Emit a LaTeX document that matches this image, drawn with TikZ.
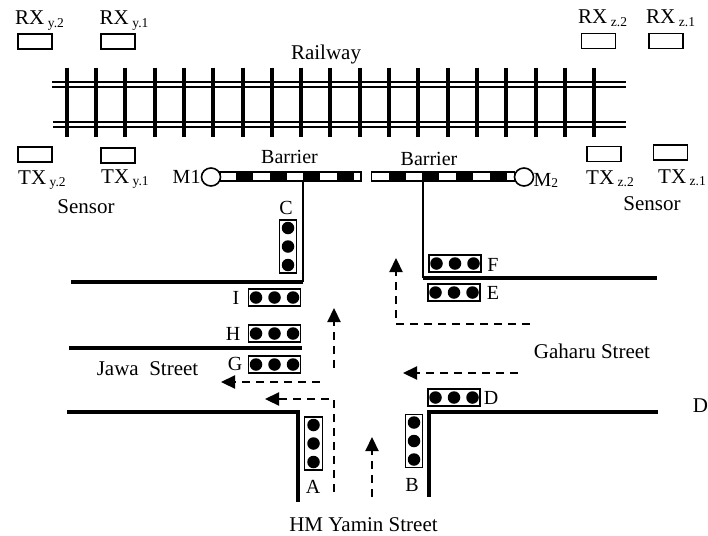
\documentclass[tikz,border=0pt]{standalone}
\usepackage{fontspec}
\setmainfont{Liberation Serif}
\usepackage{tikz}
\usetikzlibrary{shapes.geometric,arrows.meta,positioning,calc}
\newcommand{\sublabel}[2]{#1\,\raisebox{-2pt}{\fontsize{13.5}{14}\selectfont #2}}

\begin{document}
\begin{tikzpicture}[
  x=1pt, y=-1pt,
  sensorbox/.style={rectangle, draw, line width=1.4pt, fill=white, minimum width=34pt, minimum height=15pt, inner sep=0pt},
  lampbox/.style={rectangle, draw, line width=1.4pt, fill=white, minimum width=52pt, minimum height=17pt, inner sep=0pt},
  lampboxv/.style={lampbox, minimum width=17.5pt, minimum height=53pt},
  lamp/.style={circle, fill=black, minimum size=12.5pt, inner sep=0pt},
  label/.style={inner sep=0pt, font=\fontsize{21}{24}\selectfont},
  letter/.style={inner sep=0pt, font=\fontsize{20}{22}\selectfont},
  rail/.style={line width=2pt},
  tie/.style={line width=4pt},
  road/.style={line width=3.6pt},
  post/.style={line width=2.4pt},
  flow/.style={dashed, dash pattern=on 8pt off 6pt, line width=2.2pt, -{Triangle[length=14pt,width=13pt]}},
  motor/.style={ellipse, draw, line width=1.6pt, fill=white, minimum width=19pt, minimum height=18pt, inner sep=0pt},
  barbar/.style={rectangle, draw, line width=1.6pt, fill=white, minimum height=9pt, inner sep=0pt},
]
  \useasboundingbox (0,0) rectangle (708,535);

  % railway
  \foreach \i in {0,...,18}
    \draw[tie] ({66.7+\i*29.3},67.5) -- ({66.7+\i*29.3},137);
  \foreach \railY in {81.5,86.5}
    \draw[rail] (52,\railY) -- (626,\railY);
  \foreach \railY in {122,126.7}
    \draw[rail] (53,\railY) -- (626,\railY);
  \node[label] (railway) at (326,54) {Railway};

  % sensors
  \node[sensorbox] (rxy2) at (35,41.5) {};
  \node[sensorbox] (rxy1) at (118,41.5) {};
  \node[sensorbox] (rxz2) at (598.5,41) {};
  \node[sensorbox] (rxz1) at (666,41) {};
  \node[sensorbox] (txy2) at (35,154.5) {};
  \node[sensorbox] (txy1) at (118,155.5) {};
  \node[sensorbox] (txz2) at (604,154) {};
  \node[sensorbox] (txz1) at (670.5,152.5) {};
  \node[label, anchor=base west] (lrxy2) at (15,25) {\sublabel{RX}{y.2}};
  \node[label, anchor=base west] (lrxy1) at (99.5,25) {\sublabel{RX}{y.1}};
  \node[label, anchor=base west] (lrxz2) at (578,24) {\sublabel{RX}{z.2}};
  \node[label, anchor=base west] (lrxz1) at (646,24) {\sublabel{RX}{z.1}};
  \node[label, anchor=base west] (ltxy2) at (18,184) {\sublabel{TX}{y.2}};
  \node[label, anchor=base west] (ltxy1) at (101,183) {\sublabel{TX}{y.1}};
  \node[label, anchor=base west] (ltxz2) at (586,184) {\sublabel{TX}{z.2}};
  \node[label, anchor=base west] (ltxz1) at (658,183) {\sublabel{TX}{z.1}};
  \node[label] (sensorl) at (86,207) {Sensor};
  \node[label] (sensorr) at (652,204) {Sensor};

  % barriers
  \node[barbar, minimum width=141pt] (barl) at (290.5,176.5) {};
  \node[barbar, minimum width=143pt] (barr) at (443,176.5) {};
  \foreach \segX in {236,270,303,337}
    \fill ($(\segX,172)$) rectangle ($(\segX+17,181)$);
  \foreach \segX in {389,422,456,490}
    \fill ($(\segX,172)$) rectangle ($(\segX+17,181)$);
  \node[motor] (motl) at (211,177) {};
  \node[motor] (motr) at (524,177) {};
  \node[letter, left=0pt of motl] (m1) {M1};
  \node[letter, anchor=west] (m2) at (533.5,180) {M\raisebox{-1pt}{\fontsize{13.5}{14}\selectfont 2}};
  \node[letter] (barlbl) at (289.5,157) {Barrier};
  \node[letter] (barrbl) at (429,159) {Barrier};

  % roads
  \coordinate (postc) at (303,181);
  \coordinate (cornc) at (303,282);
  \coordinate (roadi) at (71,282);
  \coordinate (postf) at (423,181);
  \coordinate (cornf) at (423,278);
  \coordinate (roadf) at (657,278);
  \coordinate (roadh) at (69,348);
  \coordinate (endh) at (302,348);
  \coordinate (roada) at (67,412);
  \coordinate (corna) at (298,412);
  \coordinate (enda) at (298,502);
  \coordinate (roadd) at (658,412);
  \coordinate (cornd) at (429,412);
  \coordinate (endd) at (429,497);
  \draw[post] (postc) -- (cornc);
  \draw[road] (cornc) -- (roadi);
  \draw[post] (postf) -- (cornf);
  \draw[road] (cornf) -- (roadf);
  \draw[road] (roadh) -- (endh);
  \draw[road, line join=miter] (roada) -- (corna) -- (enda);
  \draw[road, line join=miter] (roadd) -- (cornd) -- (endd);

  % traffic lights
  \foreach \lampName/\cx/\cy in {i/274.5/297.5, h/274.5/333.5, g/274.5/364.5, f/455/263.5, e/454/292.5, d/454/397.5} {
    \node[lampbox] (lamp\lampName) at (\cx,\cy) {};
    \foreach \dx in {-18.5,0,18.5}
      \node[lamp] at ($(\cx,\cy)+(\dx,0)$) {};
  }
  \foreach \lampName/\cx/\cy in {c/288/246.5, a/313.5/443.5, b/414/441} {
    \node[lampboxv] (lamp\lampName) at (\cx,\cy) {};
    \foreach \dy in {-18.5,0,18.5}
      \node[lamp] at ($(\cx,\cy)+(0,\dy)$) {};
  }
  \node[letter] (la) at (313,487) {A};
  \node[letter] (lb) at (412,485) {B};
  \node[letter] (lc) at (286,208) {C};
  \node[letter] (ld) at (491,398) {D};
  \node[letter] (le) at (493,293) {E};
  \node[letter] (lf) at (493,265) {F};
  \node[letter] (lg) at (235,364) {G};
  \node[letter] (lh) at (233,334) {H};
  \node[letter] (li) at (236,298) {I};

  % street names
  \node[label] (jawa) at (147.5,369) {Jawa\ \ Street};
  \node[label] (gaharu) at (592,351) {Gaharu Street};
  \node[label] (yamin) at (363.5,525) {HM Yamin Street};
  \node[label] (dlbl) at (700.5,406) {D};

  % traffic flow
  \coordinate (fa1) at (334,492);
  \coordinate (fa2) at (334,399);
  \coordinate (fa3) at (265,399);
  \coordinate (fb1) at (372,497);
  \coordinate (fb2) at (372,437);
  \coordinate (fc1) at (334,368);
  \coordinate (fc2) at (334,308);
  \coordinate (fd1) at (320,382);
  \coordinate (fd2) at (221,382);
  \coordinate (fe1) at (530,324);
  \coordinate (fe2) at (396,324);
  \coordinate (fe3) at (396,258);
  \coordinate (ff1) at (518,373);
  \coordinate (ff2) at (403,373);
  \draw[flow] (fa1) -- (fa2) -- (fa3);
  \draw[flow] (fb1) -- (fb2);
  \draw[flow] (fc1) -- (fc2);
  \draw[flow] (fd1) -- (fd2);
  \draw[flow] (fe1) -- (fe2) -- (fe3);
  \draw[flow] (ff1) -- (ff2);
\end{tikzpicture}
\end{document}
